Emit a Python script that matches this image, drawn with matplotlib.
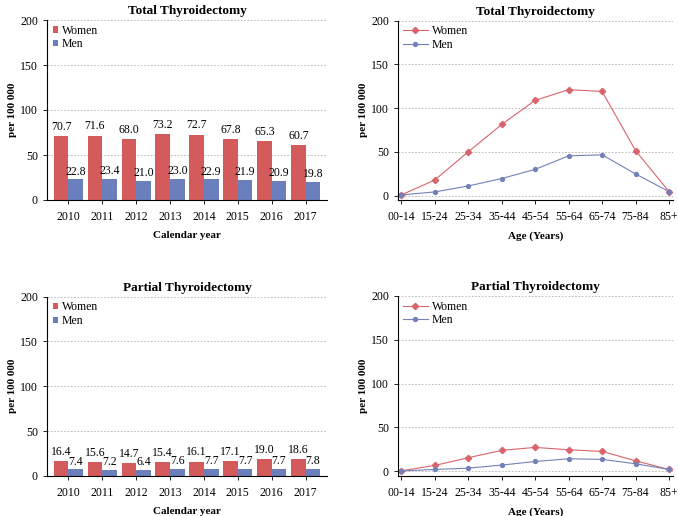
import matplotlib
matplotlib.use("Agg")
import matplotlib.pyplot as plt
import numpy as np

plt.rcParams["font.family"] = ["Liberation Serif", "DejaVu Serif"]

years = ["2010", "2011", "2012", "2013", "2014", "2015", "2016", "2017"]
total_women_year = [70.7, 71.6, 68.0, 73.2, 72.7, 67.8, 65.3, 60.7]
total_men_year = [22.8, 23.4, 21.0, 23.0, 22.9, 21.9, 20.9, 19.8]
partial_women_year = [16.4, 15.6, 14.7, 15.4, 16.1, 17.1, 19.0, 18.6]
partial_men_year = [7.4, 7.2, 6.4, 7.6, 7.7, 7.7, 7.7, 7.8]

ages = ["00-14", "15-24", "25-34", "35-44", "45-54", "55-64", "65-74", "75-84", "85+"]
total_women_age = [0.8, 17.9, 50.0, 81.3, 108.8, 121.0, 119.0, 51.5, 4.6]
total_men_age = [0.8, 4.2, 11.0, 19.5, 30.0, 45.4, 46.6, 24.8, 4.6]
partial_women_age = [0.4, 6.5, 15.3, 23.7, 27.1, 24.4, 22.5, 11.8, 1.9]
partial_men_age = [0.2, 1.9, 3.4, 6.9, 11.0, 14.1, 13.4, 8.4, 1.9]

RED = "#d35b5b"
BLUE = "#6b7fbd"
LRED = "#d9646c"
LBLUE = "#7282b9"

fig = plt.figure(figsize=(6.78, 5.16), dpi=100)

W, H = 678, 516


def make_ax(left, right, top, bottom):
    return fig.add_axes([left / W, 1 - bottom / H, (right - left) / W, (bottom - top) / H])


def style(ax, title, xlabel):
    ax.set_title(title, fontsize=9.5, fontweight="bold", pad=4)
    ax.set_xlabel(xlabel, fontsize=8, fontweight="bold", labelpad=6)
    ax.set_ylabel("per 100 000", fontsize=8, fontweight="bold", labelpad=2)
    for s in ["top", "right"]:
        ax.spines[s].set_visible(False)
    for s in ["left", "bottom"]:
        ax.spines[s].set_linewidth(0.8)
    ax.set_yticks([0, 50, 100, 150, 200])
    ax.tick_params(labelsize=8.5, length=3, width=0.6)
    ax.tick_params(axis="x", pad=5)
    ax.yaxis.grid(True, linestyle=(0, (2, 2)), color="#b0b0b0", linewidth=0.6)
    ax.set_axisbelow(True)


def bar_panel(ax, women, men, title):
    x = np.arange(len(years))
    bw = 0.43
    bw_w = ax.bar(x - bw / 2, women, bw, color=RED, label="Women")
    bw_m = ax.bar(x + bw / 2, men, bw, color=BLUE, label="Men")
    for rect, v in zip(bw_w, women):
        ax.text(rect.get_x() + rect.get_width() / 2, v + 3.5, f"{v:.1f}",
                ha="center", va="bottom", fontsize=8.5)
    for rect, v in zip(bw_m, men):
        ax.text(rect.get_x() + rect.get_width() / 2, v + 2.0, f"{v:.1f}",
                ha="center", va="bottom", fontsize=8.5)
    ax.set_xticks(x)
    ax.set_xticklabels(years)
    ax.set_xlim(-0.63, 7.63)
    ax.set_ylim(0, 200)
    style(ax, title, "Calendar year")
    ax.legend(loc="upper left", frameon=False, fontsize=8.5, handlelength=0.45,
              handleheight=0.45, handletextpad=0.3, labelspacing=0.15,
              borderaxespad=0.0, bbox_to_anchor=(0.005, 1.0))


def line_panel(ax, women, men, title):
    x = np.arange(len(ages))
    ax.plot(x, women, color=LRED, lw=0.8, marker="D", ms=3.2, label="Women")
    ax.plot(x, men, color=LBLUE, lw=0.8, marker="o", ms=2.8, label="Men")
    ax.set_xticks(x)
    ax.set_xticklabels(ages)
    ax.set_xlim(-0.1, 8.12)
    ax.set_ylim(-5, 200)
    style(ax, title, "Age (Years)")
    ax.legend(loc="upper left", frameon=False, fontsize=8.5, handlelength=2.1,
              handletextpad=0.35, labelspacing=0.15, borderaxespad=0.0,
              bbox_to_anchor=(0.0, 1.0))


ax1 = make_ax(47, 327, 20, 200)
bar_panel(ax1, total_women_year, total_men_year, "Total Thyroidectomy")

ax2 = make_ax(398, 673, 20.5, 200)
line_panel(ax2, total_women_age, total_men_age, "Total Thyroidectomy")

ax3 = make_ax(47, 327, 296.5, 476)
bar_panel(ax3, partial_women_year, partial_men_year, "Partial Thyroidectomy")

ax4 = make_ax(398, 673, 296, 475.5)
line_panel(ax4, partial_women_age, partial_men_age, "Partial Thyroidectomy")

fig.savefig("out.png", dpi=100)
